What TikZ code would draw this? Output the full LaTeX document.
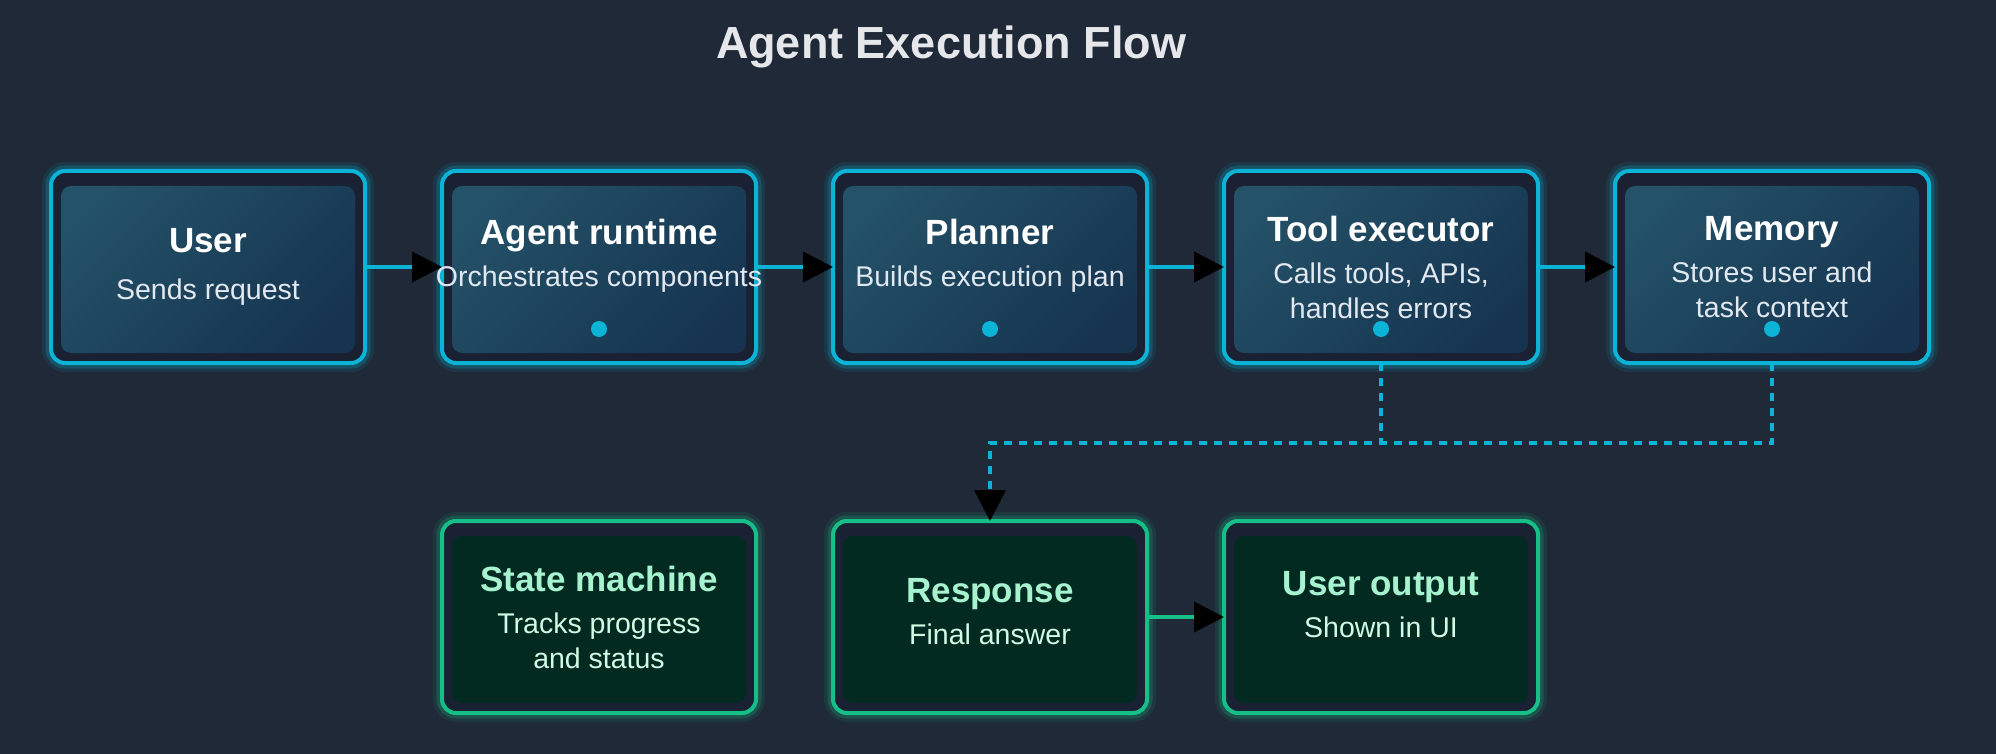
\documentclass[tikz,border=0pt]{standalone}
\usepackage{fontspec}
\setmainfont{Liberation Sans}
\usetikzlibrary{arrows.meta,positioning}

\definecolor{canvas}{HTML}{1F2937}
\definecolor{flowcyan}{HTML}{0BB4D6}
\definecolor{framebg}{HTML}{1A2133}
\definecolor{innertop}{HTML}{245268}
\definecolor{innerbot}{HTML}{163450}
\definecolor{subgray}{HTML}{E2E8F0}
\definecolor{headgray}{HTML}{E5E7EB}
\definecolor{doneedge}{HTML}{16BF87}
\definecolor{donefill}{HTML}{032A21}
\definecolor{donetitle}{HTML}{A7F3D0}
\definecolor{donetext}{HTML}{D1FAE5}

\newcommand{\stagetitle}[1]{{\fontsize{35}{40}\selectfont\bfseries\color{white}#1}}
\newcommand{\resulttitle}[1]{{\fontsize{35}{40}\selectfont\bfseries\color{donetitle}#1}}

\begin{document}
\begin{tikzpicture}[
  x=1pt, y=1pt,
  node distance=77pt,
  boxbase/.style={line width=4pt, rounded corners=14pt, fill=framebg, minimum width=314pt,
    minimum height=192pt, outer sep=0pt, align=center, font=\fontsize{28.5}{35}\selectfont},
  stage/.style={boxbase, draw=flowcyan, text=subgray,
    preaction={draw=flowcyan, line width=18pt, opacity=0.10},
    preaction={draw=flowcyan, line width=11pt, opacity=0.22},
    path picture={\shade[rounded corners=10pt, top color=innertop, bottom color=innerbot, shading angle=45]
      ([shift={(10pt,-15pt)}]path picture bounding box.north west) rectangle
      ([shift={(-10pt,10pt)}]path picture bounding box.south east);}},
  result/.style={boxbase, draw=doneedge, text=donetext,
    preaction={draw=doneedge, line width=18pt, opacity=0.10},
    preaction={draw=doneedge, line width=11pt, opacity=0.22},
    path picture={\fill[donefill, rounded corners=10pt]
      ([shift={(10pt,-15pt)}]path picture bounding box.north west) rectangle
      ([shift={(-10pt,10pt)}]path picture bounding box.south east);}},
  lift/.style={text depth=#1},
  heading/.style={font=\fontsize{45}{50}\selectfont\bfseries, text=headgray},
  flow/.style={draw=flowcyan, line width=4pt, -{Triangle[length=30pt,width=30pt,black]}},
  feed/.style={draw=flowcyan, line width=3.5pt, dash pattern=on 8pt off 7pt}
]
\fill[canvas] (0,0) rectangle (1996,-754);
\useasboundingbox (0,0) rectangle (1996,-754);

\node[heading] (title) at (951,-47) {Agent Execution Flow};

% top row
\node[stage] (user) at (208,-267) {\stagetitle{User}\\[12pt]Sends request};
\node[stage, lift=28pt, right=of user] (agent) {\stagetitle{Agent runtime}\\[7pt]\makebox[0pt]{Orchestrates components}};
\node[stage, lift=28pt, right=of agent] (planner) {\stagetitle{Planner}\\[7pt]Builds execution plan};
\node[stage, right=of planner] (tool) {\stagetitle{Tool executor}\\[7pt]Calls tools, APIs,\\handles errors};
\node[stage, right=of tool] (memory) {\stagetitle{Memory}\\[7pt]Stores user and\\task context};

% bottom row
\node[result, below=158pt of agent] (state) {\resulttitle{State machine}\\[7pt]Tracks progress\\and status};
\node[result, lift=12pt, right=of state] (response) {\resulttitle{Response}\\[7pt]Final answer};
\node[result, lift=26pt, right=of response] (output) {\resulttitle{User output}\\[7pt]Shown in UI};

\foreach \n in {agent,planner,tool,memory}
  \fill[flowcyan] ([yshift=-62pt]\n.center) circle (8pt);

\draw[flow] (user) -- (agent);
\draw[flow] (agent) -- (planner);
\draw[flow] (planner) -- (tool);
\draw[flow] (tool) -- (memory);
\draw[flow, draw=doneedge] (response) -- (output);

\coordinate[above=78pt of response.north] (merge);
\draw[feed] (tool.south) -- (tool.south |- merge);
\draw[feed, -{Triangle[length=31pt,width=31pt,black]}] (memory.south) |- (merge) -- (response.north);
\end{tikzpicture}
\end{document}
